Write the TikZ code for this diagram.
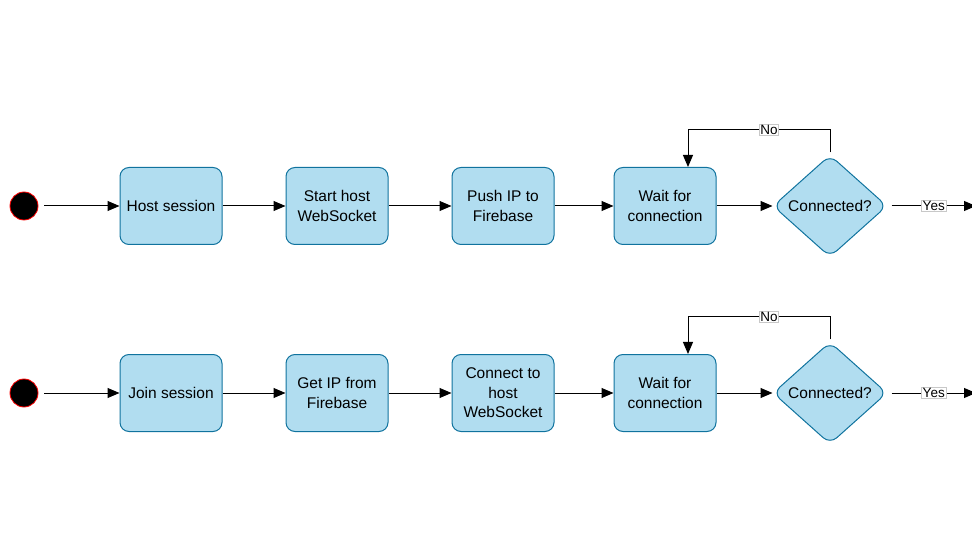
\documentclass[tikz,border=0pt]{standalone}
\usepackage{fontspec}
\setmainfont{Liberation Sans}
\usetikzlibrary{shapes.geometric,arrows.meta}
\definecolor{boxfill}{HTML}{B1DDF0}
\definecolor{boxline}{HTML}{10739E}
\definecolor{tagline}{HTML}{C8C8C8}
\begin{document}
\begin{tikzpicture}[x=1pt,y=-1pt,
  stepbox/.style={draw=boxline,fill=boxfill,line width=1pt,rounded corners=9pt,
    minimum width=102pt,minimum height=77pt,align=center,font=\fontsize{15.5}{19.5}\selectfont,inner sep=2pt},
  decision/.style={draw=boxline,fill=boxfill,line width=1pt,diamond,rounded corners=9pt,
    minimum width=114pt,minimum height=102pt,inner sep=0pt,font=\fontsize{15.5}{18}\selectfont},
  startdot/.style={circle,draw=red,fill=black,line width=0.8pt,minimum size=28pt,inner sep=0pt},
  flow/.style={draw=black,line width=1pt,-{Triangle[length=12pt,width=10pt]}},
  tag/.style={fill=white,draw=tagline,line width=0.5pt,inner sep=1pt,font=\fontsize{13.5}{14}\selectfont}]
\useasboundingbox (0,0) rectangle (972,553);

% upper lane: hosting a session
\node[startdot] (s1) at (24,206) {};
\node[stepbox] (h1) at (171,206) {Host session};
\node[stepbox] (h2) at (337,206) {Start host\\WebSocket};
\node[stepbox] (h3) at (503,206) {Push IP to\\Firebase};
\node[stepbox] (h4) at (665,206) {Wait for\\connection};
\node[decision] (d1) at (830,206) {Connected?};
\coordinate (e1) at (976,206);
\coordinate (n1a) at (830,130);
\coordinate (n1b) at (688,130);

\draw[flow] (s1.east) ++(6,0) -- (h1.west);
\draw[flow] (h1) -- (h2);
\draw[flow] (h2) -- (h3);
\draw[flow] (h3) -- (h4);
\draw[flow] (h4.east) -- (d1.west);
\draw[flow] (d1.east) ++(4,0) -- node[tag,pos=0.5] {Yes} (e1);
\draw[flow] (d1.north) ++(0,-2) -- (n1a) -- node[tag,pos=0.43] {No} (n1b) -- (h4.north -| n1b);

% lower lane: joining a session
\node[startdot] (s2) at (24,393) {};
\node[stepbox] (j1) at (171,393) {Join session};
\node[stepbox] (j2) at (337,393) {Get IP from\\Firebase};
\node[stepbox] (j3) at (503,393) {Connect to\\host\\WebSocket};
\node[stepbox] (j4) at (665,393) {Wait for\\connection};
\node[decision] (d2) at (830,393) {Connected?};
\coordinate (e2) at (976,393);
\coordinate (n2a) at (830,317);
\coordinate (n2b) at (688,317);

\draw[flow] (s2.east) ++(6,0) -- (j1.west);
\draw[flow] (j1) -- (j2);
\draw[flow] (j2) -- (j3);
\draw[flow] (j3) -- (j4);
\draw[flow] (j4.east) -- (d2.west);
\draw[flow] (d2.east) ++(4,0) -- node[tag,pos=0.5] {Yes} (e2);
\draw[flow] (d2.north) ++(0,-2) -- (n2a) -- node[tag,pos=0.43] {No} (n2b) -- (j4.north -| n2b);
\end{tikzpicture}
\end{document}
